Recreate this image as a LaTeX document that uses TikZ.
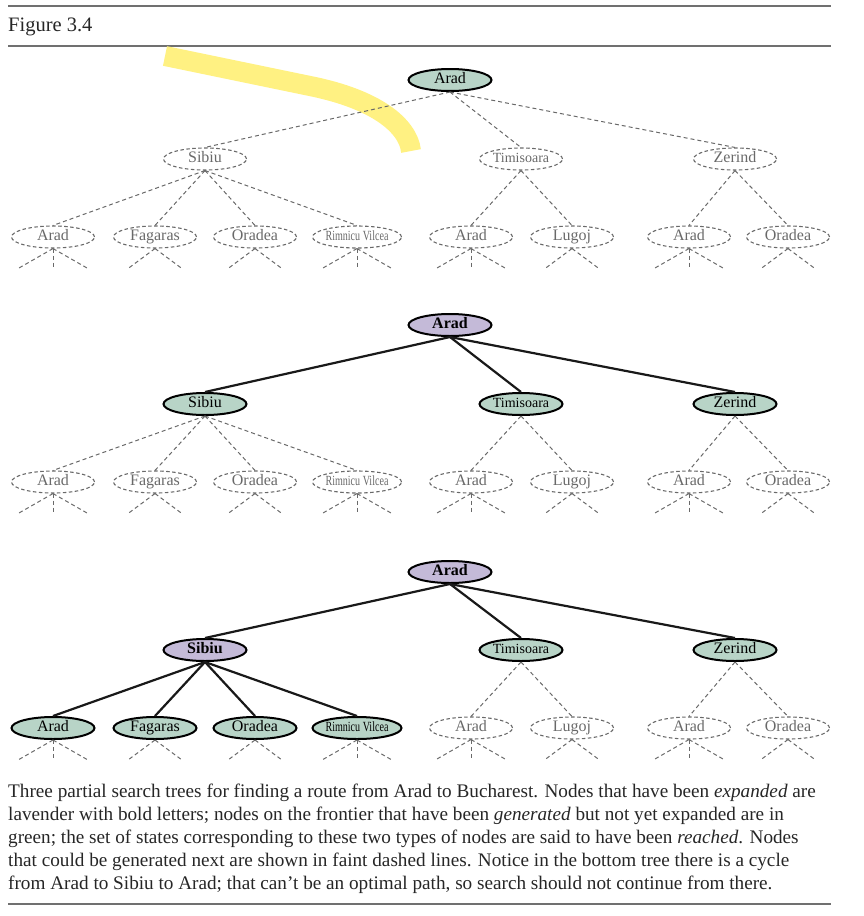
\documentclass[tikz,border=0pt]{standalone}
\usepackage{fontspec}
\usepackage{graphicx}
\setmainfont{Liberation Serif}
\usetikzlibrary{shapes.geometric,calc}
\definecolor{frontier}{RGB}{184,212,199}
\definecolor{expanded}{RGB}{196,186,216}
\definecolor{faintgray}{RGB}{105,105,105}
\definecolor{rulegray}{RGB}{112,112,112}
\definecolor{hilite}{RGB}{255,241,130}
\tikzset{
  city/.style={ellipse, minimum width=83pt, minimum height=22pt, inner sep=0pt, text height=11pt, text depth=3.5pt, font=\fontsize{16}{16}\selectfont},
  faintnode/.style={city, draw=faintgray, dash pattern=on 3.5pt off 2.5pt, line width=1.1pt, text=faintgray},
  frontiernode/.style={city, draw=black, fill=frontier, line width=2pt},
  expandednode/.style={city, draw=black, fill=expanded, line width=2pt, font=\fontsize{16}{16}\selectfont\bfseries},
  faintedge/.style={draw=faintgray, line width=1pt, dash pattern=on 4pt off 3pt},
  treeedge/.style={draw=black!90, line width=2.2pt},
  smalltext/.style={font=\fontsize{14}{14}\selectfont},
  rulestyle/.style={draw=rulegray, line width=2.5pt},
  captext/.style={anchor=base west, inner sep=0pt, font=\fontsize{19.2}{22}\selectfont, text=black!85},
}
\newcommand\RV{\scalebox{0.72}[1]{Rimnicu Vilcea}}
\newcommand\stubsIII[1]{%
  \coordinate (#1-l) at ($(#1.south)+(-35,20)$);
  \coordinate (#1-m) at ($(#1.south)+(0,20)$);
  \coordinate (#1-r) at ($(#1.south)+(35,20)$);
  \draw[faintedge] (#1.south) -- (#1-l);
  \draw[faintedge] (#1.south) -- (#1-m);
  \draw[faintedge] (#1.south) -- (#1-r);}
\newcommand\stubsII[1]{%
  \coordinate (#1-l) at ($(#1.south)+(-27,20)$);
  \coordinate (#1-r) at ($(#1.south)+(27,20)$);
  \draw[faintedge] (#1.south) -- (#1-l);
  \draw[faintedge] (#1.south) -- (#1-r);}
\begin{document}
\begin{tikzpicture}[x=1pt,y=-1pt]
\useasboundingbox (0,0) rectangle (863,916);
% rules and title
\coordinate (r1a) at (8,6); \coordinate (r1b) at (831,6);
\coordinate (r2a) at (8,46); \coordinate (r2b) at (831,46);
\coordinate (r3a) at (8,904); \coordinate (r3b) at (831,904);
\draw[rulestyle] (r1a) -- (r1b);
\draw[rulestyle] (r2a) -- (r2b);
\draw[rulestyle] (r3a) -- (r3b);
\node[captext, font=\fontsize{20.5}{22}\selectfont] (title) at (8,31) {Figure 3.4};
% highlighter stroke
\draw[hilite, line width=20pt] (165,56) -- (310,86) .. controls (375,99) and (408,125) .. (411,151);

% ---------- Tree 1 ----------
\node[frontiernode] (a1) at (450,80) {Arad};
\node[faintnode] (a1s) at (205,159) {Sibiu};
\node[faintnode, smalltext] (a1t) at (521,159) {Timisoara};
\node[faintnode] (a1z) at (735,159) {Zerind};
\node[faintnode] (a1sa) at (53,237) {Arad};
\node[faintnode] (a1sf) at (155,237) {Fagaras};
\node[faintnode] (a1so) at (255,237) {Oradea};
\node[faintnode, smalltext] (a1sr) at (357,237) {\RV};
\node[faintnode] (a1ta) at (471,237) {Arad};
\node[faintnode] (a1tl) at (572,237) {Lugoj};
\node[faintnode] (a1za) at (689,237) {Arad};
\node[faintnode] (a1zo) at (788,237) {Oradea};
\foreach \c in {a1s,a1t,a1z} \draw[faintedge] (a1.south) -- (\c.north);
\foreach \c in {a1sa,a1sf,a1so,a1sr} \draw[faintedge] (a1s.south) -- (\c.north);
\foreach \c in {a1ta,a1tl} \draw[faintedge] (a1t.south) -- (\c.north);
\foreach \c in {a1za,a1zo} \draw[faintedge] (a1z.south) -- (\c.north);
\stubsIII{a1sa}\stubsII{a1sf}\stubsII{a1so}\stubsIII{a1sr}
\stubsIII{a1ta}\stubsII{a1tl}\stubsIII{a1za}\stubsII{a1zo}

% ---------- Tree 2 ----------
\node[expandednode] (a2) at (450,325) {Arad};
\node[frontiernode] (a2s) at (205,404) {Sibiu};
\node[frontiernode, smalltext] (a2t) at (521,404) {Timisoara};
\node[frontiernode] (a2z) at (735,404) {Zerind};
\node[faintnode] (a2sa) at (53,482) {Arad};
\node[faintnode] (a2sf) at (155,482) {Fagaras};
\node[faintnode] (a2so) at (255,482) {Oradea};
\node[faintnode, smalltext] (a2sr) at (357,482) {\RV};
\node[faintnode] (a2ta) at (471,482) {Arad};
\node[faintnode] (a2tl) at (572,482) {Lugoj};
\node[faintnode] (a2za) at (689,482) {Arad};
\node[faintnode] (a2zo) at (788,482) {Oradea};
\foreach \c in {a2s,a2t,a2z} \draw[treeedge] (a2.south) -- (\c.north);
\foreach \c in {a2sa,a2sf,a2so,a2sr} \draw[faintedge] (a2s.south) -- (\c.north);
\foreach \c in {a2ta,a2tl} \draw[faintedge] (a2t.south) -- (\c.north);
\foreach \c in {a2za,a2zo} \draw[faintedge] (a2z.south) -- (\c.north);
\stubsIII{a2sa}\stubsII{a2sf}\stubsII{a2so}\stubsIII{a2sr}
\stubsIII{a2ta}\stubsII{a2tl}\stubsIII{a2za}\stubsII{a2zo}

% ---------- Tree 3 ----------
\node[expandednode] (a3) at (450,572) {Arad};
\node[expandednode] (a3s) at (205,650) {Sibiu};
\node[frontiernode, smalltext] (a3t) at (521,650) {Timisoara};
\node[frontiernode] (a3z) at (735,650) {Zerind};
\node[frontiernode] (a3sa) at (53,728) {Arad};
\node[frontiernode] (a3sf) at (155,728) {Fagaras};
\node[frontiernode] (a3so) at (255,728) {Oradea};
\node[frontiernode, smalltext] (a3sr) at (357,728) {\RV};
\node[faintnode] (a3ta) at (471,728) {Arad};
\node[faintnode] (a3tl) at (572,728) {Lugoj};
\node[faintnode] (a3za) at (689,728) {Arad};
\node[faintnode] (a3zo) at (788,728) {Oradea};
\foreach \c in {a3s,a3t,a3z} \draw[treeedge] (a3.south) -- (\c.north);
\foreach \c in {a3sa,a3sf,a3so,a3sr} \draw[treeedge] (a3s.south) -- (\c.north);
\foreach \c in {a3ta,a3tl} \draw[faintedge] (a3t.south) -- (\c.north);
\foreach \c in {a3za,a3zo} \draw[faintedge] (a3z.south) -- (\c.north);
\stubsIII{a3sa}\stubsII{a3sf}\stubsII{a3so}\stubsIII{a3sr}
\stubsIII{a3ta}\stubsII{a3tl}\stubsIII{a3za}\stubsII{a3zo}

% ---------- caption ----------
\node[captext] (c1) at (8,797) {Three partial search trees for finding a route from Arad to Bucharest. Nodes that have been \textit{expanded} are};
\node[captext] (c2) at (8,820) {lavender with bold letters; nodes on the frontier that have been \textit{generated} but not yet expanded are in};
\node[captext] (c3) at (8,843) {green; the set of states corresponding to these two types of nodes are said to have been \textit{reached}. Nodes};
\node[captext] (c4) at (8,866) {that could be generated next are shown in faint dashed lines. Notice in the bottom tree there is a cycle};
\node[captext] (c5) at (8,889) {from Arad to Sibiu to Arad; that can’t be an optimal path, so search should not continue from there.};
\end{tikzpicture}
\end{document}
